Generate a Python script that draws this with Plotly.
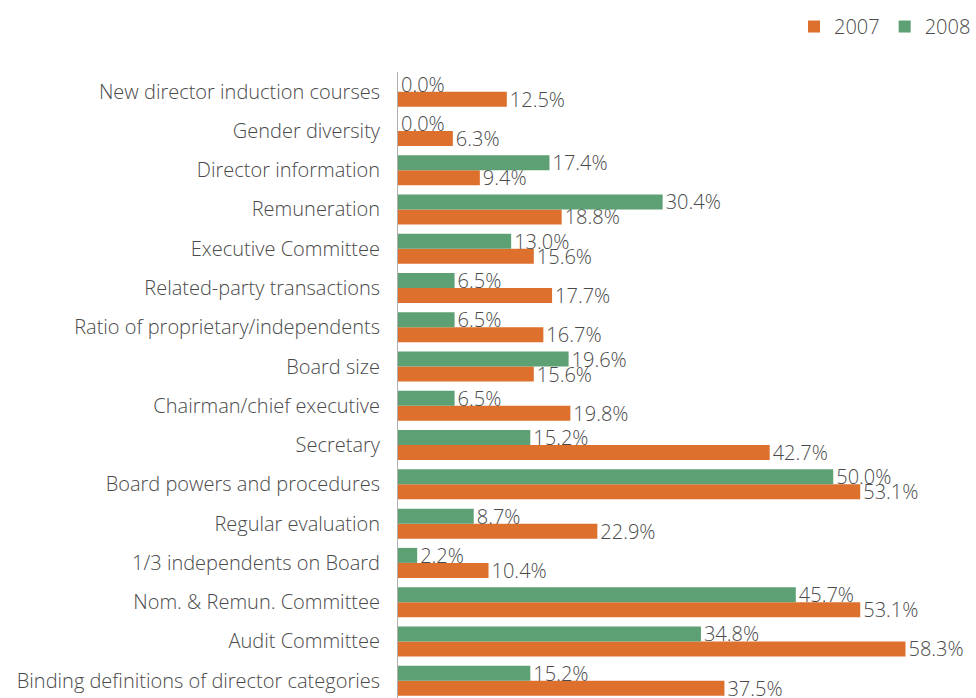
import plotly.graph_objects as go

# Categories listed top to bottom as they appear on the chart
categories = [
    "New director induction courses",
    "Gender diversity",
    "Director information",
    "Remuneration",
    "Executive Committee",
    "Related-party transactions",
    "Ratio of proprietary/independents",
    "Board size",
    "Chairman/chief executive",
    "Secretary",
    "Board powers and procedures",
    "Regular evaluation",
    "1/3 independents on Board",
    "Nom. & Remun. Committee",
    "Audit Committee",
    "Binding definitions of director categories",
]
values_2008 = [0.0, 0.0, 17.4, 30.4, 13.0, 6.5, 6.5, 19.6, 6.5, 15.2, 50.0, 8.7, 2.2, 45.7, 34.8, 15.2]
values_2007 = [12.5, 6.3, 9.4, 18.8, 15.6, 17.7, 16.7, 15.6, 19.8, 42.7, 53.1, 22.9, 10.4, 53.1, 58.3, 37.5]

ORANGE = "#DC702C"
GREEN = "#5DA074"
TEXT = "#4a4a4a"
FONT = "Open Sans"
SIZE = 20

fig = go.Figure()
for name, vals, color in [("2007", values_2007, ORANGE), ("2008", values_2008, GREEN)]:
    fig.add_trace(go.Bar(
        name=name,
        y=categories,
        x=vals,
        orientation="h",
        marker=dict(color=color, line=dict(width=0)),
        text=[f"{v:.1f}%" for v in vals],
        textposition="outside",
        constraintext="none",
        cliponaxis=False,
        textfont=dict(family=FONT, size=SIZE, color=TEXT, weight=300),
        hoverinfo="skip",
    ))

fig.update_layout(
    width=976,
    height=698,
    margin=dict(l=398, r=0, t=72, b=0),
    paper_bgcolor="white",
    plot_bgcolor="white",
    barmode="group",
    bargap=0.236,
    bargroupgap=0,
    font=dict(family=FONT, size=SIZE, color=TEXT, weight=300),
    showlegend=True,
    legend=dict(
        orientation="h",
        x=1.016, xanchor="right",
        y=0.962, yref="container", yanchor="middle",
        traceorder="normal",
        font=dict(family=FONT, size=SIZE, color=TEXT, weight=300),
        itemwidth=30,
        bgcolor="rgba(0,0,0,0)",
    ),
    xaxis=dict(
        range=[0, 66.4],
        showgrid=False,
        zeroline=False,
        showline=False,
        showticklabels=False,
        ticks="",
    ),
    yaxis=dict(
        type="category",
        categoryorder="array",
        categoryarray=categories[::-1],
        range=[-0.44, 15.5],
        showgrid=False,
        zeroline=False,
        showline=True,
        linecolor="#b0b0b0",
        linewidth=1,
        ticks="",
        ticklabelstandoff=13,
        tickfont=dict(family=FONT, size=SIZE, color=TEXT, weight=300),
    ),
)

fig.write_html("out.html")
